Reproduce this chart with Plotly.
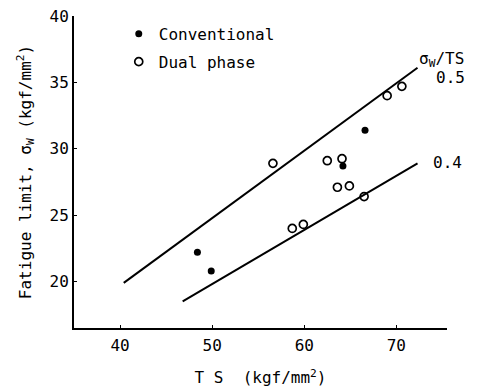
import plotly.graph_objects as go

# Data
conv_ts = [48.4, 49.9, 64.2, 66.6]
conv_sw = [22.2, 20.8, 28.7, 31.4]

dual_ts = [56.6, 62.5, 64.1, 63.6, 64.9, 66.5, 58.7, 59.9, 69.0, 70.6]
dual_sw = [28.9, 29.1, 29.25, 27.1, 27.2, 26.4, 24.0, 24.3, 34.0, 34.7]

line05_ts = [40.4, 72.3]
line05_sw = [19.9, 36.1]
line04_ts = [46.8, 72.3]
line04_sw = [18.5, 28.9]

x_ticks = [40, 50, 60, 70]
y_ticks = [20, 25, 30, 35, 40]

FONT = "DejaVu Sans Mono"

fig = go.Figure()
fig.add_trace(go.Scatter(x=line05_ts, y=line05_sw, mode="lines",
                         line=dict(color="black", width=2), showlegend=False))
fig.add_trace(go.Scatter(x=line04_ts, y=line04_sw, mode="lines",
                         line=dict(color="black", width=2), showlegend=False))
fig.add_trace(go.Scatter(x=conv_ts, y=conv_sw, mode="markers", name="Conventional",
                         legendgroup="a",
                         marker=dict(symbol="circle", size=7, color="black")))
fig.add_trace(go.Scatter(x=dual_ts, y=dual_sw, mode="markers", name="Dual phase",
                         legendgroup="b",
                         marker=dict(symbol="circle-open", size=8, color="black",
                                     line=dict(width=1.7))))

ann_font = dict(family=FONT, size=16, color="black")
fig.add_annotation(x=72.2, y=36.75, text="σ<sub>W</sub>/TS", showarrow=False,
                   xanchor="left", yanchor="middle", font=ann_font)
fig.add_annotation(x=74.1, y=35.35, text="0.5", showarrow=False,
                   xanchor="left", yanchor="middle", font=ann_font)
fig.add_annotation(x=73.8, y=28.95, text="0.4", showarrow=False,
                   xanchor="left", yanchor="middle", font=ann_font)

fig.update_layout(
    width=478, height=388,
    margin=dict(l=74, r=31, t=16, b=60),
    paper_bgcolor="white", plot_bgcolor="white",
    font=dict(family=FONT, size=16, color="black"),
    legend=dict(x=0.12, y=0.997, xanchor="left", yanchor="top",
                bgcolor="rgba(0,0,0,0)", font=dict(family=FONT, size=16),
                itemwidth=30, tracegroupgap=4),
    xaxis=dict(range=[35, 75.5], tickvals=x_ticks, showgrid=False, zeroline=False,
               showline=True, linecolor="black", linewidth=2,
               ticks="inside", ticklen=3, tickcolor="black", automargin=False,
               tickfont=dict(family=FONT, size=16), ticklabelstandoff=2,
               title=dict(text="T S  (kgf/mm<sup>2</sup>)", standoff=18,
                          font=dict(family=FONT, size=16))),
    yaxis=dict(range=[16.5, 40], tickvals=y_ticks, showgrid=False, zeroline=False,
               showline=True, linecolor="black", linewidth=2,
               ticks="inside", ticklen=3, tickcolor="black", automargin=False,
               tickfont=dict(family=FONT, size=16),
               title=dict(text="Fatigue limit, σ<sub>W</sub> (kgf/mm<sup>2</sup>)", standoff=14,
                          font=dict(family=FONT, size=16))),
)

fig.write_html("out.html")
